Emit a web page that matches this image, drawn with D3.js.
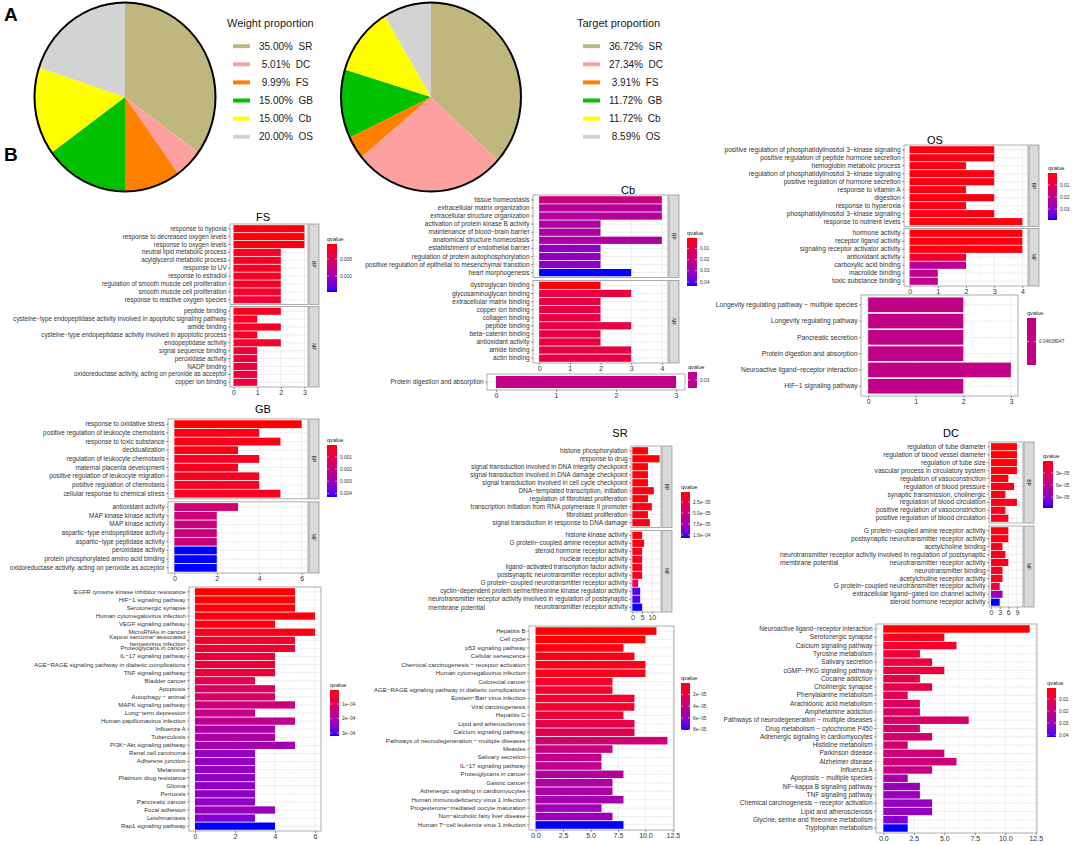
<!DOCTYPE html>
<html>
<head>
<meta charset="utf-8">
<script src="https://d3js.org/d3.v7.min.js"></script>
<style>
  body { margin: 0; background: #fff; }
  svg { font-family: "Liberation Sans", Arial, sans-serif; }
</style>
</head>
<body>
<div id="chart"></div>
<script>

// ---------- pie data ----------
var pieNames = ["SR", "DC", "FS", "GB", "Cb", "OS"];
var pieColors = ["#bfb77d", "#ffa0a0", "#ff8000", "#00c000", "#ffff00", "#d3d3d3"];
var weightPct = [35.00, 5.01, 9.99, 15.00, 15.00, 20.00];
var targetPct = [36.72, 27.34, 3.91, 11.72, 11.72, 8.59];

// ---------- GO / KEGG data: [term, count, qvalue] ----------
var FS_BP = [
  ["response to hypoxia", 3, 0.0008],
  ["response to decreased oxygen levels", 3, 0.0008],
  ["response to oxygen levels", 3, 0.0008],
  ["neutral lipid metabolic process", 2, 0.0018],
  ["acylglycerol metabolic process", 2, 0.0018],
  ["response to UV", 2, 0.0018],
  ["response to estradiol", 2, 0.0018],
  ["regulation of smooth muscle cell proliferation", 2, 0.0020],
  ["smooth muscle cell proliferation", 2, 0.0020],
  ["response to reactive oxygen species", 2, 0.0026]
];
var FS_MF = [
  ["peptide binding", 2, 0.0016],
  ["cysteine−type endopeptidase activity involved in apoptotic signaling pathway", 1, 0.0018],
  ["amide binding", 2, 0.0018],
  ["cysteine−type endopeptidase activity involved in apoptotic process", 1, 0.0020],
  ["endopeptidase activity", 2, 0.0020],
  ["signal sequence binding", 1, 0.0028],
  ["peroxidase activity", 1, 0.0030],
  ["NADP binding", 1, 0.0030],
  ["oxidoreductase activity, acting on peroxide as acceptor", 1, 0.0030],
  ["copper ion binding", 1, 0.0030]
];
var FS_Q = [0.0006, 0.0147];
var FS_BREAKS = [0.005, 0.010];
var FS_BREAK_LABELS = ["0.005", "0.010"];

var CB_BP = [
  ["tissue homeostasis", 4, 0.020],
  ["extracellular matrix organization", 4, 0.025],
  ["extracellular structure organization", 4, 0.025],
  ["activation of protein kinase B activity", 2, 0.027],
  ["maintenance of blood−brain barrier", 2, 0.027],
  ["anatomical structure homeostasis", 4, 0.027],
  ["establishment of endothelial barrier", 2, 0.033],
  ["regulation of protein autophosphorylation", 2, 0.033],
  ["positive regulation of epithelial to mesenchymal transition", 2, 0.034],
  ["heart morphogenesis", 3, 0.0437]
];
var CB_MF = [
  ["dystroglycan binding", 2, 0.0012],
  ["glycosaminoglycan binding", 3, 0.009],
  ["extracellular matrix binding", 2, 0.009],
  ["copper ion binding", 2, 0.009],
  ["collagen binding", 2, 0.009],
  ["peptide binding", 3, 0.009],
  ["beta−catenin binding", 2, 0.009],
  ["antioxidant activity", 2, 0.009],
  ["amide binding", 3, 0.009],
  ["actin binding", 3, 0.009]
];
var CB_Q = [0.0005, 0.0437];
var CB_BREAKS = [0.01, 0.02, 0.03, 0.04];
var CB_BREAK_LABELS = ["0.01", "0.02", "0.03", "0.04"];

var CB_KEGG = [["Protein digestion and absorption", 3, 0.03]];
var CB_KEGG_Q = [0.03, 0.03];
var CB_KEGG_BREAKS = [0.03];
var CB_KEGG_BREAK_LABELS = ["0.03"];

var OS_BP = [
  ["positive regulation of phosphatidylinositol 3−kinase signaling", 3, 0.0015],
  ["positive regulation of peptide hormone secretion", 3, 0.0015],
  ["hemoglobin metabolic process", 2, 0.0015],
  ["regulation of phosphatidylinositol 3−kinase signaling", 3, 0.0015],
  ["positive regulation of hormone secretion", 3, 0.0015],
  ["response to vitamin A", 2, 0.0015],
  ["digestion", 3, 0.0015],
  ["response to hyperoxia", 2, 0.0015],
  ["phosphatidylinositol 3−kinase signaling", 3, 0.0015],
  ["response to nutrient levels", 4, 0.0010]
];
var OS_MF = [
  ["hormone activity", 4, 0.0010],
  ["receptor ligand activity", 4, 0.0010],
  ["signaling receptor activator activity", 4, 0.0010],
  ["antioxidant activity", 2, 0.005],
  ["carboxylic acid binding", 2, 0.022],
  ["macrolide binding", 1, 0.020],
  ["toxic substance binding", 1, 0.020]
];
var OS_Q = [0.0002, 0.039];
var OS_BREAKS = [0.01, 0.02, 0.03];
var OS_BREAK_LABELS = ["0.01", "0.02", "0.03"];

var OS_KEGG = [
  ["Longevity regulating pathway − multiple species", 2, 0.04638047],
  ["Longevity regulating pathway", 2, 0.04638047],
  ["Pancreatic secretion", 2, 0.04638047],
  ["Protein digestion and absorption", 2, 0.04638047],
  ["Neuroactive ligand−receptor interaction", 3, 0.04638047],
  ["HIF−1 signaling pathway", 2, 0.04638047]
];
var OS_KEGG_Q = [0.04638047, 0.04638047];
var OS_KEGG_BREAKS = [0.04638047];
var OS_KEGG_BREAK_LABELS = ["0.04638047"];

var GB_BP = [
  ["response to oxidative stress", 6, 0.00003],
  ["positive regulation of leukocyte chemotaxis", 4, 0.0002],
  ["response to toxic substance", 5, 0.0002],
  ["decidualization", 3, 0.0002],
  ["regulation of leukocyte chemotaxis", 4, 0.0003],
  ["maternal placenta development", 3, 0.0003],
  ["positive regulation of leukocyte migration", 4, 0.0003],
  ["positive regulation of chemotaxis", 4, 0.0003],
  ["cellular response to chemical stress", 5, 0.0003]
];
var GB_MF = [
  ["antioxidant activity", 3, 0.0017],
  ["MAP kinase kinase activity", 2, 0.0019],
  ["MAP kinase activity", 2, 0.0019],
  ["aspartic−type endopeptidase activity", 2, 0.0019],
  ["aspartic−type peptidase activity", 2, 0.0019],
  ["peroxidase activity", 2, 0.0043],
  ["protein phosphorylated amino acid binding", 2, 0.0043],
  ["oxidoreductase activity, acting on peroxide as acceptor", 2, 0.0043]
];
var GB_Q = [0.00002, 0.0043];
var GB_BREAKS = [0.001, 0.002, 0.003, 0.004];
var GB_BREAK_LABELS = ["0.001", "0.002", "0.003", "0.004"];

var GB_KEGG = [
  ["EGFR tyrosine kinase inhibitor resistance", 5, 3.4e-6],
  ["HIF−1 signaling pathway", 5, 5e-6],
  ["Serotonergic synapse", 5, 8e-6],
  ["Human cytomegalovirus infection", 6, 1.2e-5],
  ["VEGF signaling pathway", 4, 1.5e-5],
  ["MicroRNAs in cancer", 6, 2e-5],
  ["Kaposi sarcoma−associated\nherpesvirus infection", 5, 4e-5],
  ["Proteoglycans in cancer", 5, 4.5e-5],
  ["IL−17 signaling pathway", 4, 5.5e-5],
  ["AGE−RAGE signaling pathway in diabetic complications", 4, 5.5e-5],
  ["TNF signaling pathway", 4, 6e-5],
  ["Bladder cancer", 3, 9e-5],
  ["Apoptosis", 4, 1.05e-4],
  ["Autophagy − animal", 4, 1.1e-4],
  ["MAPK signaling pathway", 5, 1.45e-4],
  ["Long−term depression", 3, 1.6e-4],
  ["Human papillomavirus infection", 5, 1.7e-4],
  ["Influenza A", 4, 2.0e-4],
  ["Tuberculosis", 4, 2.0e-4],
  ["PI3K−Akt signaling pathway", 5, 2.1e-4],
  ["Renal cell carcinoma", 3, 2.35e-4],
  ["Adherens junction", 3, 2.4e-4],
  ["Melanoma", 3, 2.4e-4],
  ["Platinum drug resistance", 3, 2.45e-4],
  ["Glioma", 3, 2.45e-4],
  ["Pertussis", 3, 2.45e-4],
  ["Pancreatic cancer", 3, 2.45e-4],
  ["Focal adhesion", 4, 2.3e-4],
  ["Leishmaniasis", 3, 2.6e-4],
  ["Rap1 signaling pathway", 4, 3.2e-4]
];
var GB_KEGG_Q = [3.4e-6, 3.2e-4];
var GB_KEGG_BREAKS = [1e-4, 2e-4, 3e-4];
var GB_KEGG_BREAK_LABELS = ["1e−04", "2e−04", "3e−04"];

var SR_BP = [
  ["histone phosphorylation", 8, 3e-6],
  ["response to drug", 14, 3e-6],
  ["signal transduction involved in DNA integrity checkpoint", 8, 4e-6],
  ["signal transduction involved in DNA damage checkpoint", 8, 4e-6],
  ["signal transduction involved in cell cycle checkpoint", 8, 4e-6],
  ["DNA−templated transcription, initiation", 11, 5e-6],
  ["regulation of fibroblast proliferation", 8, 5e-6],
  ["transcription initiation from RNA polymerase II promoter", 10, 6e-6],
  ["fibroblast proliferation", 8, 6e-6],
  ["signal transduction in response to DNA damage", 9, 7e-6]
];
var SR_MF = [
  ["histone kinase activity", 5, 5e-6],
  ["G protein−coupled amine receptor activity", 6, 6e-6],
  ["steroid hormone receptor activity", 5, 8e-6],
  ["nuclear receptor activity", 5, 8e-6],
  ["ligand−activated transcription factor activity", 5, 8e-6],
  ["postsynaptic neurotransmitter receptor activity", 5, 1e-5],
  ["G protein−coupled neurotransmitter receptor activity", 3, 3.2e-5],
  ["cyclin−dependent protein serine/threonine kinase regulator activity", 4, 1.0e-4],
  ["neurotransmitter receptor activity involved in regulation of postsynaptic\nmembrane potential", 4, 1.02e-4],
  ["neurotransmitter receptor activity", 5, 1.07e-4]
];
var SR_Q = [2.3e-6, 1.07e-4];
var SR_BREAKS = [2.5e-5, 5e-5, 7.5e-5, 1e-4];
var SR_BREAK_LABELS = ["2.5e−05", "5.0e−05", "7.5e−05", "1.0e−04"];

var SR_KEGG = [
  ["Hepatitis B", 11, 3e-7],
  ["Cell cycle", 10, 1e-6],
  ["p53 signaling pathway", 8, 2e-6],
  ["Cellular senescence", 9, 3e-6],
  ["Chemical carcinogenesis − receptor activation", 10, 4e-6],
  ["Human cytomegalovirus infection", 10, 5e-6],
  ["Colorectal cancer", 7, 8e-6],
  ["AGE−RAGE signaling pathway in diabetic complications", 7, 9e-6],
  ["Epstein−Barr virus infection", 9, 9e-6],
  ["Viral carcinogenesis", 9, 1e-5],
  ["Hepatitis C", 8, 1.2e-5],
  ["Lipid and atherosclerosis", 9, 1.8e-5],
  ["Calcium signaling pathway", 9, 2.0e-5],
  ["Pathways of neurodegeneration − multiple diseases", 12, 3.2e-5],
  ["Measles", 7, 3.8e-5],
  ["Salivary secretion", 6, 4.0e-5],
  ["IL−17 signaling pathway", 6, 4.2e-5],
  ["Proteoglycans in cancer", 8, 4.8e-5],
  ["Gastric cancer", 7, 5.0e-5],
  ["Adrenergic signaling in cardiomyocytes", 7, 5.0e-5],
  ["Human immunodeficiency virus 1 infection", 8, 5.3e-5],
  ["Progesterone−mediated oocyte maturation", 6, 5.5e-5],
  ["Non−alcoholic fatty liver disease", 7, 5.7e-5],
  ["Human T−cell leukemia virus 1 infection", 8, 8.05e-5]
];
var SR_KEGG_Q = [3e-7, 8.05e-5];
var SR_KEGG_BREAKS = [2e-5, 4e-5, 6e-5, 8e-5];
var SR_KEGG_BREAK_LABELS = ["2e−05", "4e−05", "6e−05", "8e−05"];

var DC_BP = [
  ["regulation of tube diameter", 9, 2e-6],
  ["regulation of blood vessel diameter", 9, 2e-6],
  ["regulation of tube size", 9, 2e-6],
  ["vascular process in circulatory system", 9, 3e-6],
  ["regulation of vasoconstriction", 6, 4e-6],
  ["regulation of blood pressure", 8, 5e-6],
  ["synaptic transmission, cholinergic", 5, 5e-6],
  ["regulation of blood circulation", 9, 6e-6],
  ["positive regulation of vasoconstriction", 5, 7e-6],
  ["positive regulation of blood circulation", 6, 8e-6]
];
var DC_MF = [
  ["G protein−coupled amine receptor activity", 6, 4e-6],
  ["postsynaptic neurotransmitter receptor activity", 6, 5e-6],
  ["acetylcholine binding", 4, 8e-6],
  ["neurotransmitter receptor activity involved in regulation of postsynaptic\nmembrane potential", 5, 8e-6],
  ["neurotransmitter receptor activity", 6, 9e-6],
  ["neurotransmitter binding", 4, 1e-5],
  ["acetylcholine receptor activity", 4, 1e-5],
  ["G protein−coupled neurotransmitter receptor activity", 3, 1.8e-5],
  ["extracellular ligand−gated ion channel activity", 4, 8.2e-5],
  ["steroid hormone receptor activity", 3, 1.17e-4]
];
var DC_Q = [5e-7, 1.17e-4];
var DC_BREAKS = [3e-5, 6e-5, 9e-5];
var DC_BREAK_LABELS = ["3e−05", "6e−05", "9e−05"];

var DC_KEGG = [
  ["Neuroactive ligand−receptor interaction", 12, 0.0008],
  ["Serotonergic synapse", 5, 0.004],
  ["Calcium signaling pathway", 6, 0.005],
  ["Tyrosine metabolism", 3, 0.007],
  ["Salivary secretion", 4, 0.008],
  ["cGMP−PKG signaling pathway", 5, 0.008],
  ["Cocaine addiction", 3, 0.010],
  ["Cholinergic synapse", 4, 0.010],
  ["Phenylalanine metabolism", 2, 0.012],
  ["Arachidonic acid metabolism", 3, 0.013],
  ["Amphetamine addiction", 3, 0.014],
  ["Pathways of neurodegeneration − multiple diseases", 7, 0.015],
  ["Drug metabolism − cytochrome P450", 3, 0.016],
  ["Adrenergic signaling in cardiomyocytes", 4, 0.016],
  ["Histidine metabolism", 2, 0.017],
  ["Parkinson disease", 5, 0.018],
  ["Alzheimer disease", 6, 0.018],
  ["Influenza A", 4, 0.020],
  ["Apoptosis − multiple species", 2, 0.027],
  ["NF−kappa B signaling pathway", 3, 0.030],
  ["TNF signaling pathway", 3, 0.030],
  ["Chemical carcinogenesis − receptor activation", 4, 0.031],
  ["Lipid and atherosclerosis", 4, 0.031],
  ["Glycine, serine and threonine metabolism", 2, 0.033],
  ["Tryptophan metabolism", 2, 0.0417]
];
var DC_KEGG_Q = [0.0008, 0.0417];
var DC_KEGG_BREAKS = [0.01, 0.02, 0.03, 0.04];
var DC_KEGG_BREAK_LABELS = ["0.01", "0.02", "0.03", "0.04"];

var ticks0to3 = [0, 1, 2, 3];
var ticks0to4 = [0, 1, 2, 3, 4];
var ticksEven = [0, 2, 4, 6];
var ticksSR = [0, 5, 10];
var ticksDC = [0, 3, 6, 9];
var ticksKegg = [0, 2.5, 5, 7.5, 10, 12.5];

// ---------- setup ----------
var W = 1072, H = 845;
var FONT = "Liberation Sans, Arial, sans-serif";
var svg = d3.select("#chart").append("svg").attr("width", W).attr("height", H);
svg.append("rect").attr("width", W).attr("height", H).attr("fill", "#fff");
var defs = svg.append("defs");
var lab = d3.interpolateLab("red", "blue");
var gradCount = 0;

svg.append("text").attr("x", 4).attr("y", 21).text("A")
  .style("font-size", "19px").style("font-weight", "bold");
svg.append("text").attr("x", 4).attr("y", 161).text("B")
  .style("font-size", "19px").style("font-weight", "bold");

// ---------- pies ----------
function drawPie(cx, cy, rx, ry, values, title, lx, ly) {
  var g = svg.append("g")
    .attr("transform", "translate(" + cx + "," + cy + ") scale(" + rx / 100 + "," + ry / 100 + ")");
  var arc = d3.arc().innerRadius(0).outerRadius(100);
  g.selectAll("path")
    .data(d3.pie().sort(null)(values))
    .enter().append("path")
    .attr("d", arc)
    .attr("fill", function(d, i) { return pieColors[i]; });
  svg.append("ellipse")
    .attr("cx", cx).attr("cy", cy).attr("rx", rx).attr("ry", ry)
    .attr("fill", "none").attr("stroke", "#000").attr("stroke-width", 2);

  svg.append("text").attr("x", lx).attr("y", ly).text(title)
    .style("font-size", "11px").attr("fill", "#1a1a1a");
  var item = d3.scalePoint().domain(pieNames).range([ly + 19.2, ly + 19.2 + 18.1 * 5]);
  var lg = svg.append("g");
  lg.selectAll("line").data(pieNames).enter().append("line")
    .attr("x1", lx + 6).attr("x2", lx + 23)
    .attr("y1", function(d) { return item(d); })
    .attr("y2", function(d) { return item(d); })
    .attr("stroke", function(d, i) { return pieColors[i]; })
    .attr("stroke-width", 4);
  lg.selectAll("text").data(pieNames).enter().append("text")
    .attr("x", lx + 32)
    .attr("y", function(d) { return item(d) + 3.6; })
    .attr("xml:space", "preserve")
    .style("white-space", "pre")
    .style("font-size", "10px")
    .attr("fill", "#1a1a1a")
    .text(function(d, i) {
      var s = values[i].toFixed(2);
      while (s.length < 5) s = " " + s;
      return s + "%  " + d;
    });
}
drawPie(125, 97, 90.5, 94.5, weightPct, "Weight proportion", 227, 27);
drawPie(431, 97, 90, 94.5, targetPct, "Target proportion", 577, 27);

// ---------- bar panels ----------
function wrapLabels(axisG, mode) {
  axisG.selectAll(".tick text").each(function(d) {
    if (d.indexOf("\n") < 0) return;
    var lines = d.split("\n");
    var t = d3.select(this);
    var xEnd = +t.attr("x");
    t.text(lines[0]);
    var w = this.getComputedTextLength();
    t.text(null).attr("dy", null);
    if (mode === "left") {
      t.attr("text-anchor", "start");
      lines.forEach(function(ln, i) {
        t.append("tspan").attr("x", xEnd - w).attr("dy", i ? "1.32em" : "0.32em").text(ln);
      });
    } else {
      lines.forEach(function(ln, i) {
        t.append("tspan").attr("x", xEnd).attr("dy", i ? "1.1em" : "-0.23em").text(ln);
      });
    }
  });
}

function drawLegend(p) {
  var g = svg.append("g");
  var single = p.q[0] === p.q[1];
  var id = "qgrad" + (gradCount++);
  var grad = defs.append("linearGradient").attr("id", id)
    .attr("x1", 0).attr("y1", 0).attr("x2", 0).attr("y2", 1);
  d3.range(0, 1.0001, 0.05).forEach(function(t) {
    grad.append("stop").attr("offset", t).attr("stop-color", single ? lab(0.5) : lab(t));
  });
  g.append("text").attr("x", p.lx).attr("y", p.ly - 3).text("qvalue")
    .style("font-size", "5.6px").attr("fill", "#1a1a1a");
  g.append("rect").attr("x", p.lx).attr("y", p.ly).attr("width", p.lw).attr("height", p.lh)
    .attr("fill", "url(#" + id + ")");
  var ys = d3.scaleLinear().domain(p.q).range([p.ly, p.ly + p.lh]);
  p.breaks.forEach(function(b, i) {
    var yy = single ? p.ly + p.lh / 2 : ys(b);
    g.append("line").attr("x1", p.lx).attr("x2", p.lx + 2).attr("y1", yy).attr("y2", yy)
      .attr("stroke", "#fff").attr("stroke-width", 0.5);
    g.append("line").attr("x1", p.lx + p.lw - 2).attr("x2", p.lx + p.lw).attr("y1", yy).attr("y2", yy)
      .attr("stroke", "#fff").attr("stroke-width", 0.5);
    g.append("text").attr("x", p.lx + p.lw + 3).attr("y", yy).attr("dy", "0.35em")
      .text(p.labels[i]).style("font-size", "4.8px").attr("fill", "#333");
  });
}

function drawPanel(p) {
  var g = svg.append("g");
  var x = d3.scaleLinear().domain(p.xDomain).range([p.x0, p.x1]);
  var single = p.q[0] === p.q[1];
  var tq = d3.scaleLinear().domain(p.q).range([0, 1]).clamp(true);
  var fill = function(v) { return single ? lab(0.5) : lab(tq(v)); };

  var minor = [];
  for (var i = 0; i < p.ticks.length - 1; i++) minor.push((p.ticks[i] + p.ticks[i + 1]) / 2);

  var nTot = d3.sum(p.facets, function(f) { return f.rows.length + 0.2; });
  var avail = p.y1 - p.y0 - p.gap * (p.facets.length - 1);
  var top = p.y0;

  p.facets.forEach(function(f) {
    var h = avail * (f.rows.length + 0.2) / nTot;
    var y = d3.scaleBand()
      .domain(f.rows.map(function(d) { return d[0]; }))
      .range([top, top + h])
      .paddingInner(0.1).paddingOuter(0.15);
    var fg = g.append("g");

    fg.selectAll("line.minor").data(minor).enter().append("line")
      .attr("x1", x).attr("x2", x).attr("y1", top).attr("y2", top + h)
      .attr("stroke", "#f2f2f2").attr("stroke-width", 0.4);
    fg.selectAll("line.major").data(p.ticks).enter().append("line")
      .attr("x1", x).attr("x2", x).attr("y1", top).attr("y2", top + h)
      .attr("stroke", "#e6e6e6").attr("stroke-width", 0.7);
    fg.selectAll("line.hgrid").data(f.rows).enter().append("line")
      .attr("x1", p.x0).attr("x2", p.x1)
      .attr("y1", function(d) { return y(d[0]) + y.bandwidth() / 2; })
      .attr("y2", function(d) { return y(d[0]) + y.bandwidth() / 2; })
      .attr("stroke", "#e6e6e6").attr("stroke-width", 0.7);

    fg.selectAll("rect.bar").data(f.rows).enter().append("rect")
      .attr("class", "bar")
      .attr("x", x(0))
      .attr("y", function(d) { return y(d[0]); })
      .attr("width", function(d) { return x(d[1]) - x(0); })
      .attr("height", y.bandwidth())
      .attr("fill", function(d) { return fill(d[2]); });

    fg.append("rect").attr("x", p.x0).attr("y", top)
      .attr("width", p.x1 - p.x0).attr("height", h)
      .attr("fill", "none").attr("stroke", "#999").attr("stroke-width", 0.8);

    if (f.strip) {
      fg.append("rect").attr("x", p.x1 + 1).attr("y", top).attr("width", 10).attr("height", h)
        .attr("fill", "#d9d9d9").attr("stroke", "#999").attr("stroke-width", 0.8);
      fg.append("text")
        .attr("transform", "translate(" + (p.x1 + 6) + "," + (top + h / 2) + ") rotate(90)")
        .attr("text-anchor", "middle").attr("dy", "0.35em")
        .style("font-size", "5px").attr("fill", "#1a1a1a")
        .text(f.strip);
    }

    var ay = fg.append("g").attr("transform", "translate(" + p.x0 + ",0)")
      .call(d3.axisLeft(y).tickSize(2).tickPadding(1.4));
    ay.attr("font-size", p.labelSize || 6.4).attr("font-family", FONT);
    ay.select(".domain").remove();
    ay.selectAll(".tick line").attr("stroke", "#333").attr("stroke-width", 0.5);
    ay.selectAll(".tick text").attr("fill", "#333");
    wrapLabels(ay, p.wrap);

    top += h + p.gap;
  });

  var ax = g.append("g").attr("transform", "translate(0," + p.y1 + ")")
    .call(d3.axisBottom(x).tickValues(p.ticks).tickFormat(p.fmt || d3.format("d")).tickSize(2).tickPadding(1.5));
  ax.attr("font-size", 7).attr("font-family", FONT);
  ax.select(".domain").remove();
  ax.selectAll(".tick line").attr("stroke", "#333").attr("stroke-width", 0.5);
  ax.selectAll(".tick text").attr("fill", "#333");

  if (p.title) {
    svg.append("text").attr("x", p.tx).attr("y", p.ty).attr("text-anchor", "middle")
      .style("font-size", "11px").attr("fill", "#000").text(p.title);
  }
  drawLegend(p);
}

// GO panels
drawPanel({ title: "FS", tx: 263, ty: 221, x0: 230, x1: 308, y0: 224, y1: 387, gap: 2,
  xDomain: [-0.15, 3.15], ticks: ticks0to3, wrap: "left", labelSize: 6.3,
  facets: [{ rows: FS_BP, strip: "BP" }, { rows: FS_MF, strip: "MF" }],
  q: FS_Q, breaks: FS_BREAKS, labels: FS_BREAK_LABELS, lx: 327, ly: 244, lw: 10, lh: 48 });

drawPanel({ title: "Cb", tx: 628, ty: 194, x0: 533, x1: 668, y0: 195, y1: 363, gap: 3,
  xDomain: [-0.2, 4.2], ticks: ticks0to4, wrap: "left", labelSize: 6.5,
  facets: [{ rows: CB_BP, strip: "BP" }, { rows: CB_MF, strip: "MF" }],
  q: CB_Q, breaks: CB_BREAKS, labels: CB_BREAK_LABELS, lx: 687, ly: 238, lw: 10, lh: 48 });

drawPanel({ title: "OS", tx: 935, ty: 144, x0: 904, x1: 1028, y0: 145, y1: 286, gap: 2,
  xDomain: [-0.2, 4.2], ticks: ticks0to4, wrap: "left", labelSize: 6.6,
  facets: [{ rows: OS_BP, strip: "BP" }, { rows: OS_MF, strip: "MF" }],
  q: OS_Q, breaks: OS_BREAKS, labels: OS_BREAK_LABELS, lx: 1048, ly: 173, lw: 9, lh: 47 });

drawPanel({ title: "GB", tx: 263, ty: 413, x0: 168, x1: 308, y0: 419, y1: 573, gap: 3,
  xDomain: [-0.3, 6.3], ticks: ticksEven, wrap: "left", labelSize: 6.4,
  facets: [{ rows: GB_BP, strip: "BP" }, { rows: GB_MF, strip: "MF" }],
  q: GB_Q, breaks: GB_BREAKS, labels: GB_BREAK_LABELS, lx: 327, ly: 445, lw: 10, lh: 52 });

drawPanel({ title: "SR", tx: 620, ty: 437, x0: 631, x1: 661, y0: 446, y1: 612, gap: 3,
  xDomain: [-0.7, 14.7], ticks: ticksSR, wrap: "left", labelSize: 6.4,
  facets: [{ rows: SR_BP, strip: "BP" }, { rows: SR_MF, strip: "MF" }],
  q: SR_Q, breaks: SR_BREAKS, labels: SR_BREAK_LABELS, lx: 681, ly: 492, lw: 9, lh: 46 });

drawPanel({ title: "DC", tx: 951, ty: 437, x0: 989, x1: 1023, y0: 442, y1: 607, gap: 3,
  xDomain: [-0.7, 11.1], ticks: ticksDC, wrap: "left", labelSize: 6.6,
  facets: [{ rows: DC_BP, strip: "BP" }, { rows: DC_MF, strip: "MF" }],
  q: DC_Q, breaks: DC_BREAKS, labels: DC_BREAK_LABELS, lx: 1043, ly: 461, lw: 10, lh: 47 });

// KEGG panels
drawPanel({ x0: 487, x1: 685, y0: 374, y1: 390, gap: 0, labelSize: 6.5,
  xDomain: [-0.15, 3.15], ticks: ticks0to3, wrap: "center",
  facets: [{ rows: CB_KEGG }],
  q: CB_KEGG_Q, breaks: CB_KEGG_BREAKS, labels: CB_KEGG_BREAK_LABELS, lx: 688, ly: 372, lw: 9, lh: 16 });

drawPanel({ x0: 861, x1: 1018, y0: 295, y1: 396, gap: 0, labelSize: 6.7,
  xDomain: [-0.15, 3.15], ticks: ticks0to3, wrap: "center",
  facets: [{ rows: OS_KEGG }],
  q: OS_KEGG_Q, breaks: OS_KEGG_BREAKS, labels: OS_KEGG_BREAK_LABELS, lx: 1027, ly: 318, lw: 9, lh: 47 });

drawPanel({ x0: 189, x1: 321, y0: 587, y1: 831, gap: 0, labelSize: 6.1,
  xDomain: [-0.3, 6.3], ticks: ticksEven, wrap: "center",
  facets: [{ rows: GB_KEGG }],
  q: GB_KEGG_Q, breaks: GB_KEGG_BREAKS, labels: GB_KEGG_BREAK_LABELS, lx: 330, ly: 690, lw: 9, lh: 46 });

drawPanel({ x0: 529, x1: 674, y0: 626, y1: 830, gap: 0, labelSize: 6.1,
  xDomain: [-0.6, 12.6], ticks: ticksKegg, fmt: d3.format(".1f"), wrap: "center",
  facets: [{ rows: SR_KEGG }],
  q: SR_KEGG_Q, breaks: SR_KEGG_BREAKS, labels: SR_KEGG_BREAK_LABELS, lx: 681, ly: 683, lw: 9, lh: 47 });

drawPanel({ x0: 876, x1: 1037, y0: 624, y1: 833, gap: 0, labelSize: 6.5,
  xDomain: [-0.6, 12.6], ticks: ticksKegg, fmt: d3.format(".1f"), wrap: "center",
  facets: [{ rows: DC_KEGG }],
  q: DC_KEGG_Q, breaks: DC_KEGG_BREAKS, labels: DC_KEGG_BREAK_LABELS, lx: 1047, ly: 688, lw: 9, lh: 49 });

</script>
</body>
</html>
